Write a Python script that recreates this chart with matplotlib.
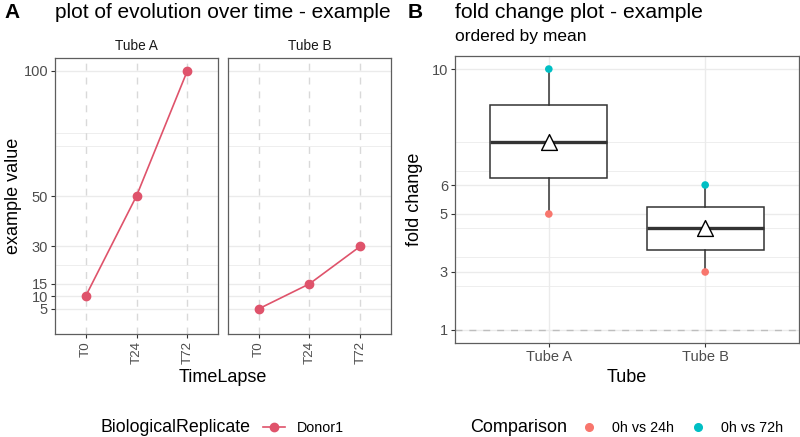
import numpy as np
import matplotlib
matplotlib.use('Agg')
import matplotlib.pyplot as plt
from matplotlib.lines import Line2D

plt.rcParams['font.family'] = ['Liberation Sans', 'DejaVu Sans']

# ─── Data ───
timepoints = ["T0", "T24", "T72"]
tubes = ["Tube A", "Tube B"]
tube_a_values = [10, 50, 100]
tube_b_values = [5, 15, 30]
left_yticks = [5, 10, 15, 30, 50, 100]
left_minor = [22.5, 70, 75]

comparisons = ["0h vs 24h", "0h vs 72h"]
fold_tube_a = [5, 10]
fold_tube_b = [3, 6]
right_yticks = [1, 3, 5, 6, 10]
right_minor = [2.5, 3.5, 4.5, 6.5, 7.5]

W, H = 800, 437
fig = plt.figure(figsize=(W / 100, H / 100), dpi=100)

def add_ax(x0, x1, y0, y1):
    return fig.add_axes([x0 / W, 1 - y1 / H, (x1 - x0) / W, (y1 - y0) / H])

GRID = '#EBEBEB'
BORDER = '#333333'
FRAME = '#5E5E5E'
TICKC = '#4D4D4D'
LINE_RED = '#DF536B'
C24 = '#F8766D'
C72 = '#00BFC4'

def style(ax):
    for s in ax.spines.values():
        s.set_color(FRAME)
        s.set_linewidth(0.9)
    ax.tick_params(colors=BORDER, labelcolor=TICKC, labelsize=10.5,
                   length=3, width=0.8, pad=2)
    ax.set_facecolor('white')

# ─── Panel A ───
ax_a = add_ax(55, 218, 58, 334)
ax_b = add_ax(228, 391, 58, 334)
for ax, vals, name in [(ax_a, tube_a_values, tubes[0]), (ax_b, tube_b_values, tubes[1])]:
    style(ax)
    x = np.arange(len(timepoints))
    for v in left_minor:
        ax.axhline(v, color=GRID, lw=0.6, zorder=0)
    for v in left_yticks:
        ax.axhline(v, color=GRID, lw=1.0, zorder=0)
    for xi in x:
        ax.axvline(xi, color='#D9D9D9', lw=1.0, ls=(0, (5, 5)), zorder=0)
    ax.plot(x, vals, color=LINE_RED, lw=1.2, marker='o', ms=6, zorder=3)
    ax.set_xlim(-0.6, len(timepoints) - 0.4)
    ax.set_ylim(-5, 105)
    ax.set_xticks(x)
    ax.set_xticklabels(timepoints, rotation=90)
    ax.tick_params(axis='x', labelsize=9.6)
    ax.set_yticks(left_yticks)
    ax.set_title(name, fontsize=9.8, color='#1A1A1A', pad=6)
ax_b.set_yticklabels([])
ax_b.tick_params(axis='y', length=0)
ax_a.set_ylabel('example value', fontsize=13, labelpad=1)
fig.text((55 + 391) / 2 / W, 1 - 377 / H, 'TimeLapse', fontsize=13,
         ha='center', va='center')

fig.text(4 / W, 1 - 13 / H, 'A', fontsize=15, fontweight='bold', va='center')
fig.text(55 / W, 1 - 13 / H, 'plot of evolution over time - example',
         fontsize=15, va='center')

# legend A
fig.text(100 / W, 1 - 428 / H, 'BiologicalReplicate', fontsize=12.8, va='center')
fig.legend(handles=[Line2D([], [], color=LINE_RED, lw=1.2, marker='o', ms=6)],
           labels=['Donor1'], loc='center left',
           bbox_to_anchor=(263 / W, 1 - 428 / H), frameon=False,
           fontsize=10.3, handlelength=1.55, handletextpad=0.8, borderpad=0,
           borderaxespad=0)

# ─── Panel B ───
ax_r = add_ax(455, 799, 56, 343)
style(ax_r)
pos = np.arange(len(tubes))
for v in right_minor:
    ax_r.axhline(v, color=GRID, lw=0.6, zorder=0)
for v in right_yticks:
    ax_r.axhline(v, color=GRID, lw=1.0, zorder=0)
for p in pos:
    ax_r.axvline(p, color=GRID, lw=1.0, zorder=0)
ax_r.axhline(1, color='#BEBEBE', lw=1.0, ls=(0, (5, 5)), zorder=1)

data = [fold_tube_a, fold_tube_b]
ax_r.boxplot(data, positions=pos, widths=0.75, patch_artist=True,
             whis=1.5, showfliers=False, showcaps=False,
             boxprops=dict(facecolor='white', edgecolor=BORDER, lw=1.1),
             whiskerprops=dict(color=BORDER, lw=1.1),
             medianprops=dict(color=BORDER, lw=2.4),
             zorder=2)
for p, vals in zip(pos, data):
    ax_r.scatter([p], [vals[0]], color=C24, s=30, zorder=4, edgecolors='none')
    ax_r.scatter([p], [vals[1]], color=C72, s=30, zorder=4, edgecolors='none')
    ax_r.scatter([p], [np.mean(vals)], marker='^', s=130, facecolor='white',
                 edgecolors='black', linewidths=1.0, zorder=5)
ax_r.set_xlim(-0.6, len(tubes) - 0.4)
ax_r.set_ylim(0.55, 10.45)
ax_r.set_xticks(pos)
ax_r.set_xticklabels(tubes)
ax_r.set_yticks(right_yticks)
ax_r.set_ylabel('fold change', fontsize=13, labelpad=6)
ax_r.set_xlabel('Tube', fontsize=13, labelpad=4)

fig.text(408 / W, 1 - 13 / H, 'B', fontsize=15, fontweight='bold', va='center')
fig.text(455 / W, 1 - 13 / H, 'fold change plot - example', fontsize=15.2, va='center')
fig.text(455 / W, 1 - 37 / H, 'ordered by mean', fontsize=12.5, va='center')

# legend B
fig.text(470 / W, 1 - 428 / H, 'Comparison', fontsize=13, va='center')
for label, c, x_dot in zip(comparisons, (C24, C72), (589, 698)):
    fig.legend(handles=[Line2D([], [], ls='none', marker='o', ms=5.5, color=c)],
               labels=[label], loc='center left',
               bbox_to_anchor=((x_dot - 7) / W, 1 - 428 / H), frameon=False,
               fontsize=10.3, handlelength=1.0, handletextpad=1.1,
               borderpad=0, borderaxespad=0)

fig.savefig('out.png', dpi=100)
